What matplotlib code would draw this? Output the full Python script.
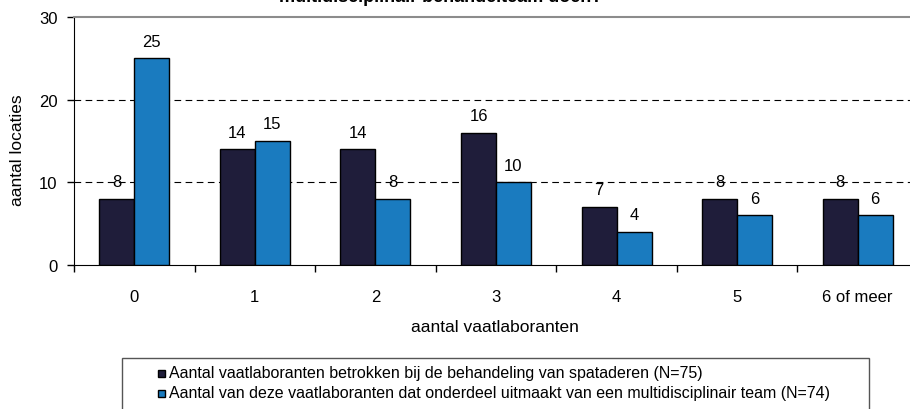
import matplotlib
matplotlib.use("Agg")
import matplotlib.pyplot as plt
import numpy as np
from matplotlib.patches import Rectangle

categories = ["0", "1", "2", "3", "4", "5", "6 of meer"]
betrokken = [8, 14, 14, 16, 7, 8, 8]
team = [25, 15, 8, 10, 4, 6, 6]
series_names = [
    "Aantal vaatlaboranten betrokken bij de behandeling van spataderen (N=75)",
    "Aantal van deze vaatlaboranten dat onderdeel uitmaakt van een multidisciplinair team (N=74)",
]
title_text = "multidisciplinair behandelteam doen?"
yticks = [0, 10, 20, 30]

plt.rcParams['font.family'] = ['Liberation Sans', 'DejaVu Sans']
W, H = 910, 410
fig = plt.figure(figsize=(W / 100, H / 100), dpi=100)


def fx(px):
    return px / W


def fy(py):
    return 1 - py / H


left, right, top, bottom = 74, 918, 18, 266
ax = fig.add_axes([fx(left), fy(bottom), (right - left) / W, (bottom - top) / H])

c_dark = "#1f1d3a"
c_blue = "#1a7bbf"
colors = [c_dark, c_blue]
x = np.arange(len(categories))
bw = 0.29
b1 = ax.bar(x - bw / 2, betrokken, bw, color=c_dark, edgecolor="black", linewidth=1, zorder=3)
b2 = ax.bar(x + bw / 2, team, bw, color=c_blue, edgecolor="black", linewidth=1, zorder=3)

for bars, vals in ((b1, betrokken), (b2, team)):
    for r, v in zip(bars, vals):
        ax.annotate(str(v), (r.get_x() + r.get_width() / 2, v), xytext=(0, 7),
                    textcoords="offset points", ha="center", va="bottom", fontsize=12, zorder=4)

ax.set_xlim(-0.5, len(categories) - 0.5)
ax.set_ylim(0, 30)
ax.set_yticks(yticks)
ax.tick_params(axis="y", direction="out", length=5, width=1, labelsize=12, pad=7)
ax.set_xticks(x)
ax.set_xticklabels(categories, fontsize=12)
ax.tick_params(axis="x", which="major", length=0, pad=17)
ax.set_xticks(np.arange(-0.5, len(categories), 1), minor=True)
ax.tick_params(axis="x", which="minor", direction="out", length=5, width=1)

for yv in [10, 20]:
    ax.axhline(yv, color="black", linestyle=(0, (6, 4)), linewidth=0.8, zorder=1)

ax.spines["top"].set_color("#8c8c8c")
ax.spines["top"].set_linewidth(1.5)
ax.spines["right"].set_visible(False)
ax.spines["left"].set_color("black")
ax.spines["bottom"].set_color("black")

fig.text(fx(18), fy(150), "aantal locaties", rotation=90, ha="center", va="center", fontsize=12.5)
fig.text(fx(495), fy(328), "aantal vaatlaboranten", ha="center", va="center", fontsize=12.5)
fig.text(fx(441), fy(2), title_text, ha="center", va="baseline", fontsize=13, fontweight="bold")

# legend box (bottom runs past the figure edge, as in the reference)
lx0, lx1, ly0, ly1 = 122, 869, 359, 420
fig.add_artist(Rectangle((fx(lx0), fy(ly1)), (lx1 - lx0) / W, (ly1 - ly0) / H,
                         transform=fig.transFigure, facecolor="white",
                         edgecolor="#555555", linewidth=1, zorder=0))
row_y = [374, 394]
for name, col, yy in zip(series_names, colors, row_y):
    fig.add_artist(Rectangle((fx(158), fy(yy + 3.5)), 7 / W, 7 / H, transform=fig.transFigure,
                             facecolor=col, edgecolor="black", linewidth=1, zorder=2))
    fig.text(fx(169), fy(yy), name, ha="left", va="center", fontsize=11.5)

fig.savefig("out.png", dpi=100)
